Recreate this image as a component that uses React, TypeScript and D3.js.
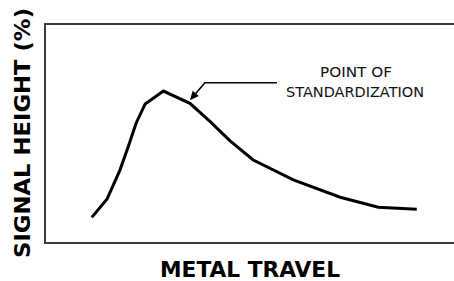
import React from "react";
import * as d3 from "d3";

const travel = [11.3, 15.0, 18.1, 20.1, 22.0, 24.2, 28.6, 35.0, 39.9, 44.7, 50.3, 60.0, 71.3, 80.5, 89.8];
const signal = [11.7, 20.1, 33.3, 44.0, 54.7, 63.5, 69.4, 63.8, 55.4, 46.6, 37.9, 28.8, 20.9, 16.3, 15.4];
const annotation = ["POINT OF", "STANDARDIZATION"];
const annotIndex = 7;
const xLabel = "METAL TRAVEL";
const yLabel = "SIGNAL HEIGHT (%)";

export default function App() {
  const W = 454, H = 281;
  const left = 45, top = 24, bottom = 243, right = 459;
  const x = d3.scaleLinear().domain([0, 100]).range([left, right]);
  const y = d3.scaleLinear().domain([0, 100]).range([bottom, top]);
  const pts = travel.map((t, i) => [t, signal[i]] as [number, number]);
  const line = d3.line<[number, number]>().x(d => x(d[0])).y(d => y(d[1]));
  const tx = x(travel[annotIndex]);
  const ty = y(signal[annotIndex]);
  const tipX = tx, tipY = ty - 3;
  const elbowX = tx + 15, elbowY = 82.7;
  const ang = Math.atan2(tipY - elbowY, tipX - elbowX);
  const ah = 9, aw = 4;
  const bx = tipX - ah * Math.cos(ang), by = tipY - ah * Math.sin(ang);
  const px = -Math.sin(ang) * aw, py = Math.cos(ang) * aw;
  return (
    <svg width={W} height={H} style={{ position: "absolute", left: 0, top: 0, background: "#fff" }}>
      <rect x={0} y={0} width={W} height={H} fill="#fff" />
      <rect x={left} y={top} width={right - left} height={bottom - top} fill="none" stroke="#3a3a3a" strokeWidth={2} />
      <path d={line(pts) ?? ""} fill="none" stroke="#000" strokeWidth={3} strokeLinejoin="miter" />
      <polyline points={`${277},${elbowY} ${elbowX},${elbowY} ${bx},${by}`} fill="none" stroke="#000" strokeWidth={1.6} />
      <polygon points={`${tipX},${tipY} ${bx + px},${by + py} ${bx - px},${by - py}`} fill="#000" />
      <text x={356} y={76.7} textAnchor="middle" fontFamily="DejaVu Sans" fontSize={13.5} fill="#111" textLength={72} lengthAdjust="spacingAndGlyphs">{annotation[0]}</text>
      <text x={355} y={96.7} textAnchor="middle" fontFamily="DejaVu Sans" fontSize={14} fill="#111" textLength={138} lengthAdjust="spacingAndGlyphs">{annotation[1]}</text>
      <text x={250} y={277} textAnchor="middle" fontFamily="DejaVu Sans" fontWeight="bold" fontSize={21} fill="#000" textLength={180} lengthAdjust="spacingAndGlyphs">{xLabel}</text>
      <text transform={`translate(30,133) rotate(-90)`} textAnchor="middle" fontFamily="DejaVu Sans" fontWeight="bold" fontSize={22} fill="#000" textLength={250} lengthAdjust="spacingAndGlyphs">{yLabel}</text>
    </svg>
  );
}
